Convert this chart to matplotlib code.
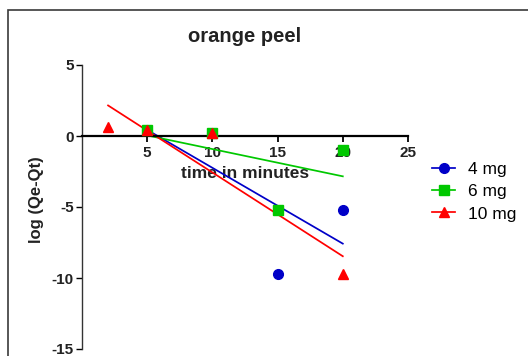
import matplotlib
matplotlib.use("Agg")
import matplotlib.pyplot as plt
import numpy as np
from matplotlib.lines import Line2D
from matplotlib.patches import Rectangle

plt.rcParams['font.family'] = ['Liberation Sans', 'DejaVu Sans']
plt.rcParams['axes.unicode_minus'] = False

# time (min) and log(Qe-Qt) for each adsorbent dose
t_4mg = [5, 10, 15, 20]
y_4mg = [0.4, 0.2, -9.7, -5.2]
t_6mg = [5, 10, 15, 20]
y_6mg = [0.4, 0.2, -5.2, -1.0]
t_10mg = [2, 5, 10, 20]
y_10mg = [0.6, 0.4, 0.2, -9.7]

labels = ['4 mg', '6 mg', '10 mg']
colors = ['#0000c8', '#00c800', '#ff0000']
markers = ['o', 's', '^']

fig = plt.figure(figsize=(5.28, 3.56), dpi=100)
ax = fig.add_axes([82 / 528, 1 - 349 / 356, 326 / 528, 284 / 356])

series = [(t_4mg, y_4mg), (t_6mg, y_6mg), (t_10mg, y_10mg)]
handles = []
for (t, y), lab, c, m in zip(series, labels, colors, markers):
    t = np.array(t, dtype=float)
    y = np.array(y, dtype=float)
    # linear regression over the measured range
    k, b = np.polyfit(t, y, 1)
    xs = np.array([t.min(), t.max()])
    ax.plot(xs, k * xs + b, color=c, lw=1.25, zorder=2)
    ax.plot(t, y, ls='none', marker=m, color=c, ms=7, zorder=3)
    handles.append(Line2D([], [], color=c, lw=1.25, marker=m, ms=7, label=lab))

ax.set_xlim(0, 25)
ax.set_ylim(-15, 5)
ax.set_xticks([5, 10, 15, 20, 25])
ax.set_yticks([5, 0, -5, -10, -15])

ax.spines['top'].set_visible(False)
ax.spines['right'].set_visible(False)
ax.spines['bottom'].set_position(('data', 0))
ax.spines['bottom'].set_linewidth(1.6)
ax.spines['bottom'].set_color('black')
ax.spines['left'].set_linewidth(1.0)
ax.spines['left'].set_color('#333333')

ax.tick_params(axis='x', direction='out', length=4, width=1.3, labelsize=11, pad=3)
ax.tick_params(axis='y', direction='out', length=4, width=1.0, labelsize=11, pad=2)
for lbl in ax.get_xticklabels() + ax.get_yticklabels():
    lbl.set_fontweight('bold')
    lbl.set_color('#222222')

ax.set_xlabel('time in minutes', fontsize=12.5, fontweight='bold', color='#222222')
ax.xaxis.set_label_coords(0.5, 0.645)
ax.xaxis.label.set_va('top')
ax.set_ylabel('log (Qe-Qt)', fontsize=12, fontweight='bold', color='#222222')
ax.yaxis.set_label_coords(-0.14, 0.525)
ax.yaxis.label.set_va('center')

fig.text(245 / 528, 1 - 36.5 / 356, 'orange peel', fontsize=14.5, fontweight='bold',
         ha='center', va='center', color='#222222')

fig.legend(handles=handles, loc='upper left', bbox_to_anchor=(432 / 528, 1 - 161.5 / 356),
           frameon=False, fontsize=12.5, handlelength=1.35, handletextpad=0.7,
           labelspacing=0.42, borderaxespad=0, borderpad=0)

# outer border
fig.patches.append(Rectangle((8 / 528, -0.1), 1.2, 1 - 9.5 / 356 + 0.1,
                             transform=fig.transFigure, fill=False,
                             edgecolor='#3a3a3a', lw=1.2))

fig.savefig('out.png', dpi=100)
